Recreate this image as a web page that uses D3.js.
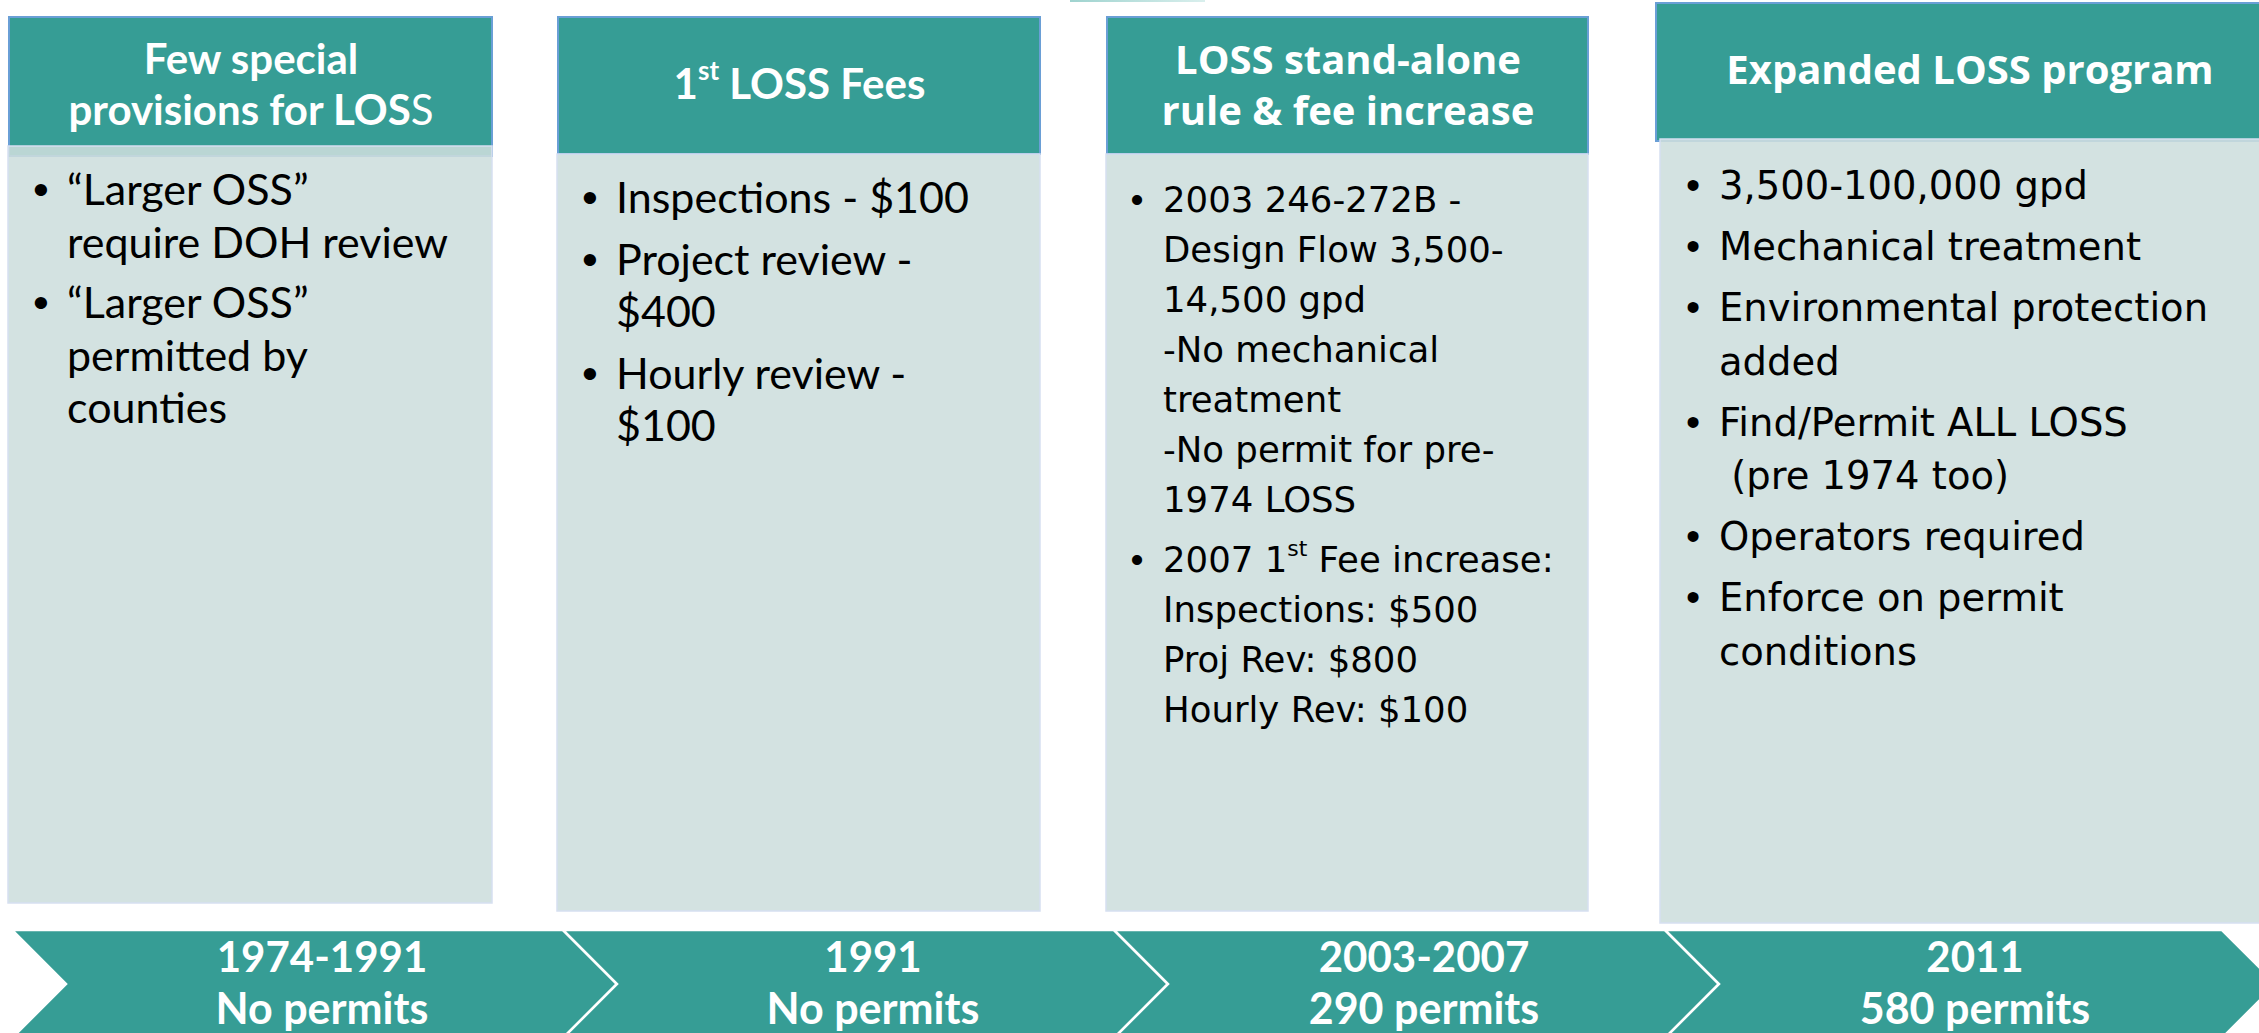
<!DOCTYPE html>
<html><head><meta charset="utf-8">
<script src="https://cdn.jsdelivr.net/npm/d3@7"></script>
<style>html,body{margin:0;padding:0;background:#fff;overflow:hidden}</style>
</head><body>
<script>
// ---- data ----
const periods = ["1974-1991", "1991", "2003-2007", "2011"];
const permits = ["No permits", "No permits", "290 permits", "580 permits"];
// ^..^ = superscript, ~..~ = regular weight inside bold heading
const headerLines = [
  ["Few special", "provisions for LOS~S~"],
  ["1^st^ LOSS Fees"],
  ["LOSS stand-alone", "rule & fee increase"],
  ["Expanded LOSS program"]
];
const bulletLines = [
  [["“Larger OSS”", "require DOH review"], ["“Larger OSS”", "permitted by", "counties"]],
  [["Inspections - $100"], ["Project review -", "$400"], ["Hourly review -", "$100"]],
  [["2003 246-272B -", "Design Flow 3,500-", "14,500 gpd", "-No mechanical", "treatment", "-No permit for pre-", "1974 LOSS"],
   ["2007 1^st^ Fee increase:", "Inspections: $500", "Proj Rev: $800", "Hourly Rev: $100"]],
  [["3,500-100,000 gpd"], ["Mechanical treatment"], ["Environmental protection", "added"],
   ["Find/Permit ALL LOSS", "\u00A0(pre 1974 too)"], ["Operators required"], ["Enforce on permit", "conditions"]]
];

(function () {
// ---- layout / style (kept separate from data) ----
const W = 2259, H = 1033;
const TEAL = "#369d95", BODY = "rgb(205,222,221)";
const calibriLike = "Lato, 'Noto Sans', sans-serif";
const boxStyle = [
  {w: 484, hTop: 17, hBot: 156, bTop: 146, bBot: 903, headBase: 74, headLH: 51, headFont: calibriLike, headSize: 42,
   bodyFont: calibriLike, bodySize: 43, first: 205, lh: 52.5, gap: 8, bulletDx: 33, textDx: 59},
  {w: 483, hTop: 17, hBot: 154, bTop: 154, bBot: 911, headBase: 99, headLH: 51, headFont: calibriLike, headSize: 42,
   bodyFont: calibriLike, bodySize: 43, first: 213, lh: 52.5, gap: 9, bulletDx: 33, textDx: 59},
  {w: 482, hTop: 17, hBot: 154, bTop: 154, bBot: 911, headBase: 74, headLH: 51, headFont: "'Open Sans', sans-serif", headSize: 40,
   bodyFont: "'DejaVu Sans', sans-serif", bodySize: 35.5, first: 212, lh: 50, gap: 10, bulletDx: 31, textDx: 57},
  {w: 630, hTop: 3, hBot: 141, bTop: 139, bBot: 923, headBase: 84, headLH: 51, headFont: "'Open Sans', sans-serif", headSize: 40,
   bodyFont: "'DejaVu Sans', sans-serif", bodySize: 38.5, first: 199, lh: 53.5, gap: 7.5, bulletDx: 38, textDx: 64}
];

const svg = d3.select("body").append("svg").attr("width", W).attr("height", H)
  .style("font-kerning", "normal");
svg.append("rect").attr("width", W).attr("height", H).attr("fill", "#fff");

// thin decorative strip at top
const grad = svg.append("defs").append("linearGradient").attr("id", "strip");
grad.append("stop").attr("offset", "0").attr("stop-color", "#9fd3cf");
grad.append("stop").attr("offset", "1").attr("stop-color", "#d9efed");
svg.append("rect").attr("x", 1070).attr("y", 0).attr("width", 135).attr("height", 2).attr("fill", "url(#strip)");

const xBox = d3.scaleBand().domain(periods).range([8, 8 + 549 * 4]).paddingInner(0);

function addRich(textSel, str) {
  const parts = str.split(/(\^[^^]+\^|~[^~]+~)/).filter(s => s.length);
  parts.forEach(p => {
    if (p.startsWith("^")) {
      textSel.append("tspan").attr("font-size", "0.62em").attr("baseline-shift", "75%").text(p.slice(1, -1));
    } else if (p.startsWith("~")) {
      textSel.append("tspan").attr("font-weight", 400).text(p.slice(1, -1));
    } else {
      textSel.append("tspan").text(p);
    }
  });
}

periods.forEach((p, i) => {
  const s = boxStyle[i];
  const x0 = xBox(p);
  const g = svg.append("g");
  g.append("rect").attr("x", x0 + 1).attr("y", s.hTop).attr("width", s.w - 1).attr("height", s.hBot - s.hTop)
    .attr("fill", TEAL).attr("stroke", "#6a9fd6").attr("stroke-width", 2);
  g.append("rect").attr("x", x0 + (i === 3 ? 5 : 0)).attr("y", s.bTop).attr("width", s.w - (i === 3 ? 5 : 0)).attr("height", s.bBot - s.bTop)
    .attr("fill", BODY).attr("fill-opacity", 0.88).attr("stroke", "#d6dff1").attr("stroke-width", 1.5);
  const cx = x0 + s.w / 2 + (i === 3 ? 0 : 1);
  headerLines[i].forEach((line, k) => {
    const t = g.append("text").attr("x", cx).attr("y", s.headBase + k * s.headLH)
      .attr("text-anchor", "middle").attr("fill", "#fff").attr("font-family", s.headFont)
      .attr("font-weight", 700).attr("font-size", s.headSize);
    addRich(t, line);
  });
  let li = 0;
  bulletLines[i].forEach((para, pi) => {
    para.forEach((line, k) => {
      const y = s.first + li * s.lh + pi * s.gap;
      if (k === 0) {
        g.append("text").attr("x", x0 + s.bulletDx).attr("y", y).attr("text-anchor", "middle")
          .attr("font-family", "'Liberation Sans', Arial, sans-serif").attr("font-size", s.bodySize * 1.05)
          .attr("fill", "#000").text("•");
      }
      const t = g.append("text").attr("x", x0 + s.textDx).attr("y", y).attr("fill", "#000")
        .attr("font-family", s.bodyFont).attr("font-size", s.bodySize)
        .style("white-space", "pre");
      addRich(t, line);
      li++;
    });
  });
});

// ---- chevron process strip ----
const xChev = d3.scaleBand().domain(periods).range([12, 12 + 551 * 4]).paddingInner(0);
const yTop = 930, yMid = 984, yBot = 1038, tip = 54;
periods.forEach((p, i) => {
  const x0 = xChev(p), bw = xChev.bandwidth() + (i === 3 ? 6 : 0);
  const pts = [[x0, yTop], [x0 + bw, yTop], [x0 + bw + tip, yMid], [x0 + bw, yBot], [x0, yBot], [x0 + tip, yMid]];
  svg.append("path").attr("d", d3.line()(pts) + "Z").attr("fill", TEAL)
    .attr("stroke", "#fff").attr("stroke-width", 2.5).attr("stroke-linejoin", "miter");
  const tx = x0 + 310;
  svg.append("text").attr("x", tx).attr("y", 972).attr("text-anchor", "middle").attr("fill", "#fff")
    .attr("font-family", calibriLike).attr("font-weight", 700).attr("font-size", 42).text(p);
  svg.append("text").attr("x", tx).attr("y", 1024).attr("text-anchor", "middle").attr("fill", "#fff")
    .attr("font-family", calibriLike).attr("font-weight", 700).attr("font-size", 43).text(permits[i]);
});
})();
</script>
</body></html>
